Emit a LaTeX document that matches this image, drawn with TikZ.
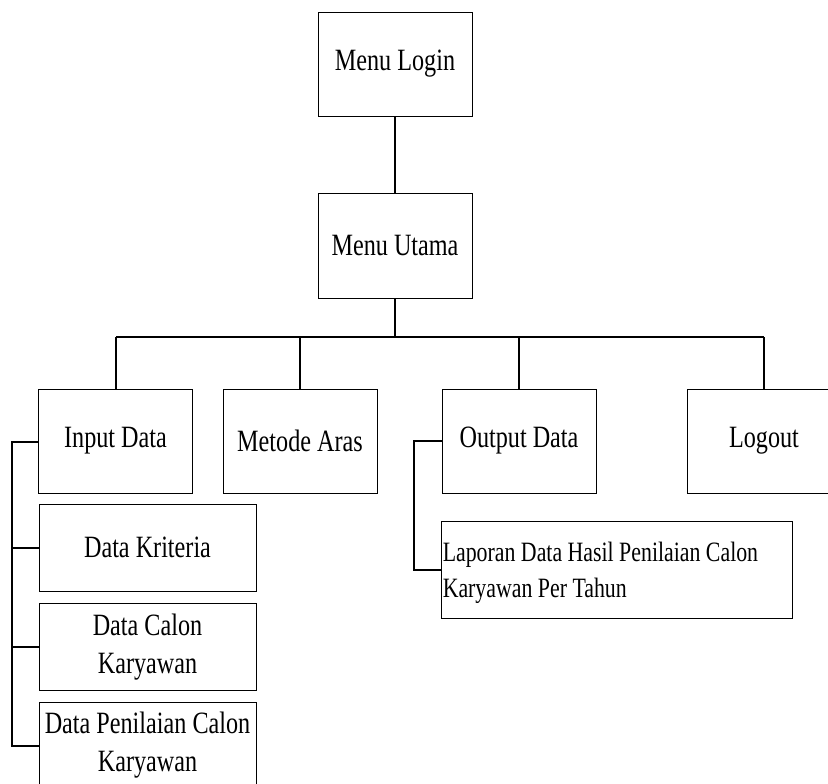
\documentclass[tikz,border=0pt]{standalone}
\usepackage{fontspec}
\newfontfamily\tnr[FakeStretch=0.78]{Liberation Serif}
\begin{document}
\begin{tikzpicture}[x=1pt,y=-1pt,
  menubox/.style={draw, line width=0.9pt, minimum width=154pt, minimum height=104pt,
    inner sep=2pt, align=center, font=\tnr\fontsize{31}{38}\selectfont},
  subbox/.style={menubox, minimum width=217pt, minimum height=87pt},
  link/.style={line width=2pt},
  thinlink/.style={line width=1.4pt}]
\useasboundingbox (0,0) rectangle (828,784);
\clip (0,0) rectangle (828,784);

% top level
\node[menubox] (login) at (395,64) {Menu Login};
\node[menubox, minimum height=105pt] (utama) at (395,245.5) {Menu Utama};

% main menu items
\node[menubox] (input)  at (115.5,441) {Input Data};
\node[menubox] (metode) at (300,441)   {Metode Aras};
\node[menubox] (output) at (519,441)   {Output Data};
\node[menubox] (logout) at (764,441)   {Logout};

% input sub items
\node[subbox] (kriteria)  at (147.5,547.5) {Data Kriteria};
\node[subbox] (calon)     at (147.5,647) {Data Calon\\Karyawan};
\node[subbox] (penilaian) at (147.5,745.5) {Data Penilaian Calon\\Karyawan};

% output sub item: empty frame plus left-aligned text
\node[menubox, minimum width=351pt, minimum height=97pt] (laporan) at (616.5,569.5) {};
\node[anchor=west, inner sep=0pt, align=left, font=\tnr\fontsize{28}{36}\selectfont]
  (laporantext) at ([xshift=2pt,yshift=-3pt]laporan.west)
  {Laporan Data Hasil Penilaian Calon\\Karyawan Per Tahun};

% connectors
\draw[thinlink] (login) -- (utama);
\coordinate (busL) at (116,337);
\coordinate (busR) at (764,337);
\draw[link, line width=2.4pt] (busL) -- (busR);
\draw[link, line width=2.4pt] (utama.south) -- (utama.south |- busL);
\draw[link] (busL) -- (busL |- input.north);
\draw[link] (metode.north) -- (metode.north |- busL);
\draw[link] (output.north) -- (output.north |- busL);
\draw[link] (busR) -- (busR |- logout.north);

\coordinate (spine) at (12,442);
\draw[link] (input.west |- spine) -- (spine) -- (spine |- penilaian.west) -- (penilaian.west);
\draw[link] (spine |- kriteria.west) -- (kriteria.west);
\draw[link] (spine |- calon.west) -- (calon.west);

\coordinate (outspine) at (414,441);
\draw[link] (output.west) -- (outspine) |- (laporan.west);
\end{tikzpicture}
\end{document}
